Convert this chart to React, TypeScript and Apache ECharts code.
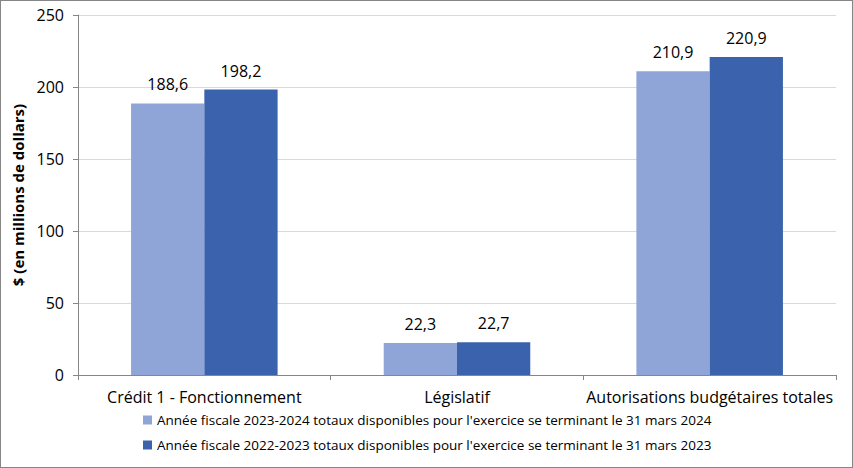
import React, { useEffect, useRef } from "react";
import * as echarts from "echarts";

const categories = ["Crédit 1 - Fonctionnement", "Législatif", "Autorisations budgétaires totales"];
const series2024 = [188.6, 22.3, 210.9];
const series2023 = [198.2, 22.7, 220.9];
const seriesNames = [
  "Année fiscale 2023-2024 totaux disponibles pour l'exercice se terminant le 31 mars 2024",
  "Année fiscale 2022-2023 totaux disponibles pour l'exercice se terminant le 31 mars 2023",
];
const yTicks = { min: 0, max: 250, interval: 50 };
const yAxisTitle = "$ (en millions de dollars)";

const FONT = "'Open Sans', 'Noto Sans', sans-serif";

export default function App() {
  const ref = useRef<HTMLDivElement>(null);
  useEffect(() => {
    if (!ref.current) return;
    const chart = echarts.init(ref.current, undefined, { renderer: "svg" });
    const label = {
      show: true,
      position: "top" as const,
      distance: 11,
      fontFamily: FONT,
      fontSize: 16,
      color: "#000",
      formatter: (p: any) => String(p.value).replace(".", ","),
    };
    chart.setOption({
      animation: false,
      textStyle: { fontFamily: FONT },
      grid: { left: 77, right: 16, top: 14, bottom: 92 },
      legend: {
        orient: "vertical",
        left: 137,
        top: 407,
        itemWidth: 9,
        itemHeight: 9,
        itemGap: 11,
        icon: "rect",
        textStyle: { fontFamily: FONT, fontSize: 13.5, color: "#000" },
        data: seriesNames,
      },
      xAxis: {
        type: "category",
        data: categories,
        axisLine: { lineStyle: { color: "#868686" } },
        axisTick: { show: true, length: 5, lineStyle: { color: "#868686" } },
        axisLabel: { fontFamily: FONT, fontSize: 16, color: "#000", margin: 14, interval: 0 },
      },
      yAxis: {
        type: "value",
        min: yTicks.min,
        max: yTicks.max,
        interval: yTicks.interval,
        name: yAxisTitle,
        nameLocation: "middle",
        nameGap: 48,
        nameTextStyle: { fontFamily: FONT, fontSize: 15, fontWeight: "bold", color: "#000" },
        axisLine: { show: true, lineStyle: { color: "#868686" } },
        axisTick: { show: true, length: 5, lineStyle: { color: "#868686" } },
        axisLabel: { fontFamily: FONT, fontSize: 16, color: "#000", margin: 14 },
        splitLine: { lineStyle: { color: "#d9d9d9" } },
      },
      series: [
        {
          name: seriesNames[0],
          type: "bar",
          data: series2024,
          itemStyle: { color: "#8FA5D7" },
          barGap: "0%",
          barCategoryGap: "42%",
          label,
        },
        {
          name: seriesNames[1],
          type: "bar",
          data: series2023,
          itemStyle: { color: "#3B63AD" },
          barGap: "0%",
          barCategoryGap: "42%",
          label,
        },
      ],
    });
    return () => chart.dispose();
  }, []);
  return (
    <div
      style={{
        position: "fixed",
        left: 0,
        top: 0,
        width: 853,
        height: 468,
        boxSizing: "border-box",
        border: "1px solid #868686",
        background: "#fff",
      }}
    >
      <div ref={ref} style={{ width: 851, height: 466 }} />
    </div>
  );
}
